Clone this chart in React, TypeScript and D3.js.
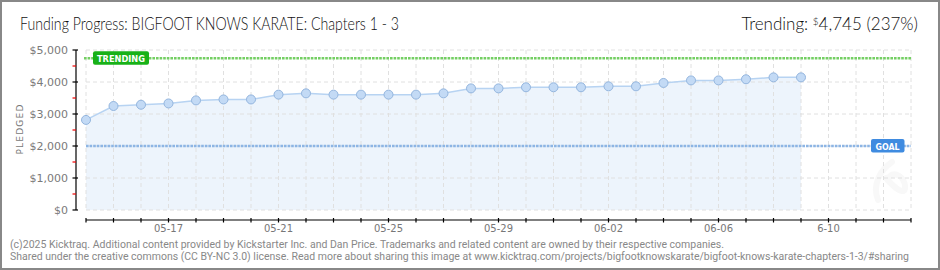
import React from "react";
import * as d3 from "d3";

const dates = [
  "2025-05-14","2025-05-15","2025-05-16","2025-05-17","2025-05-18","2025-05-19","2025-05-20",
  "2025-05-21","2025-05-22","2025-05-23","2025-05-24","2025-05-25","2025-05-26","2025-05-27",
  "2025-05-28","2025-05-29","2025-05-30","2025-05-31","2025-06-01","2025-06-02","2025-06-03",
  "2025-06-04","2025-06-05","2025-06-06","2025-06-07","2025-06-08","2025-06-09",
];
const pledged = [
  2815, 3250, 3290, 3330, 3425, 3455, 3455,
  3605, 3645, 3605, 3605, 3605, 3605, 3645,
  3800, 3800, 3835, 3835, 3835, 3865, 3865,
  3970, 4050, 4050, 4085, 4145, 4145,
];
const xTickDates = ["2025-05-17","2025-05-21","2025-05-25","2025-05-29","2025-06-02","2025-06-06","2025-06-10"];
const xTickLabels = ["05-17","05-21","05-25","05-29","06-02","06-06","6-10"];
const yTicks = [0, 1000, 2000, 3000, 4000, 5000];
const yMinorTicks = [500, 1500, 2500, 3500, 4500];
const domainStart = "2025-05-14";
const domainEnd = "2025-06-13";
const goal = 2000;
const trending = 4745;
const title = "Funding Progress: BIGFOOT KNOWS KARATE: Chapters 1 - 3";
const footer1 = "(c)2025 Kicktraq. Additional content provided by Kickstarter Inc. and Dan Price. Trademarks and related content are owned by their respective companies.";
const footer2 = "Shared under the creative commons (CC BY-NC 3.0) license. Read more about sharing this image at www.kicktraq.com/projects/bigfootknowskarate/bigfoot-knows-karate-chapters-1-3/#sharing";

const parse = d3.utcParse("%Y-%m-%d");

export default function App() {
  const W = 940, H = 270;
  const x = d3.scaleUtc().domain([parse(domainStart)!, parse(domainEnd)!]).range([86, 911]);
  const y = d3.scaleLinear().domain([0, 5000]).range([210, 50]);
  const data = dates.map((d, i) => ({ d: parse(d)!, v: pledged[i] }));
  const days = d3.utcDay.range(parse(domainStart)!, d3.utcDay.offset(parse(domainEnd)!, 1));
  const line = d3.line<any>().x(p => x(p.d)).y(p => y(p.v));
  const area = d3.area<any>().x(p => x(p.d)).y0(y(0)).y1(p => y(p.v));
  const fmt = d3.format("$,.0f");
  const font = "'DejaVu Sans', sans-serif";
  const footFont = "Roboto, 'Liberation Sans', sans-serif";
  const titleFont = "Lato, 'DejaVu Sans Condensed', sans-serif";
  const x0 = x.range()[0], x1 = x.range()[1];

  return (
    <svg width={W} height={H} style={{ position: "absolute", left: 0, top: 0, background: "#fff" }}>
      <rect x={0} y={0} width={W} height={H} fill="#fff" />
      {/* watermark */}
      <path d="M 878 200 C 872 185, 880 170, 892 162 M 886 178 C 896 190, 906 196, 905 186 C 904 176, 895 172, 890 176"
        fill="none" stroke="#f8f8f8" strokeWidth={6} strokeLinecap="round" />
      {/* area */}
      <path d={area(data)!} fill="#edf4fc" />
      {/* grid */}
      {days.map((d, i) => (
        <line key={"vg" + i} x1={x(d)} x2={x(d)} y1={y(5000)} y2={y(0)} stroke="#e0e0e0" strokeDasharray="4,3" />
      ))}
      {yTicks.map(t => (
        <line key={"hg" + t} x1={x0} x2={x1} y1={y(t)} y2={y(t)} stroke="#e0e0e0" strokeDasharray="4,3" />
      ))}
      {/* goal line */}
      <line x1={x0} x2={x1} y1={y(goal)} y2={y(goal)} stroke="#8db5e4" strokeWidth={2.5} strokeDasharray="2.6,1" />
      {/* trending line */}
      <line x1={x0 - 2} x2={x1} y1={y(trending)} y2={y(trending)} stroke="#74cf63" strokeWidth={2.5} strokeDasharray="2.6,1" />
      {/* data line and points */}
      <path d={line(data)!} fill="none" stroke="#b7d3f2" strokeWidth={1.5} />
      {data.map((p, i) => (
        <circle key={"pt" + i} cx={x(p.d)} cy={y(p.v)} r={4.5} fill="#c3daf5" stroke="#93b5de" strokeWidth={1} />
      ))}
      {/* trending label */}
      <rect x={93} y={y(trending) - 7} width={56} height={13.5} rx={2} fill="#18b118" />
      <text x={121} y={y(trending) + 3.5} textAnchor="middle" fill="#fff" fontFamily={font} fontSize={9} fontWeight="bold" textLength={48} lengthAdjust="spacingAndGlyphs">TRENDING</text>
      {/* goal label */}
      <rect x={871} y={y(goal) - 7} width={33.5} height={13.5} rx={2} fill="#3f8be0" />
      <text x={887.5} y={y(goal) + 3.5} textAnchor="middle" fill="#fff" fontFamily={font} fontSize={9} fontWeight="bold" textLength={24} lengthAdjust="spacingAndGlyphs">GOAL</text>
      {/* y axis */}
      <line x1={76} x2={76} y1={y(5000)} y2={y(0)} stroke="#000" strokeWidth={1.2} />
      {yTicks.map(t => (
        <g key={"yt" + t}>
          <line x1={72.5} x2={78} y1={y(t)} y2={y(t)} stroke="#000" strokeWidth={1.2} />
          <text x={68} y={y(t) + 4} textAnchor="end" fill="#7a7a7a" fontFamily={font} fontSize={11}>{fmt(t)}</text>
        </g>
      ))}
      {yMinorTicks.map(t => (
        <line key={"ym" + t} x1={72.5} x2={76} y1={y(t)} y2={y(t)} stroke="#e00" strokeWidth={1.2} />
      ))}
      <text transform={`translate(23,129) rotate(-90)`} textAnchor="middle" fill="#777" fontFamily={font} fontSize={9} letterSpacing={1.2}>PLEDGED</text>
      {/* x axis */}
      <line x1={x0} x2={x1} y1={220} y2={220} stroke="#000" strokeWidth={1.2} />
      {days.map((d, i) => (
        <line key={"xt" + i} x1={x(d)} x2={x(d)} y1={218} y2={222.5} stroke="#000" strokeWidth={1.2} />
      ))}
      {xTickDates.map((d, i) => (
        <text key={"xl" + i} x={x(parse(d)!)} y={231.5} textAnchor="middle" fill="#777" fontFamily={font} fontSize={10}>{xTickLabels[i]}</text>
      ))}
      {/* title */}
      <text x={20} y={30} fill="#111" fontFamily={titleFont} fontWeight={300} fontSize={17}
        textLength={379} lengthAdjust="spacingAndGlyphs">{title}</text>
      <text x={918} y={30} textAnchor="end" fill="#111" fontFamily={titleFont} fontWeight={300} fontSize={17}>
        Trending: <tspan fontSize={10} dy={-5}>$</tspan><tspan dy={5}>4,745 (237%)</tspan>
      </text>
      {/* footer */}
      <text x={10} y={247.5} fill="#888" fontFamily={footFont} fontSize={10.5} textLength={714} lengthAdjust="spacingAndGlyphs">{footer1}</text>
      <text x={10} y={259.5} fill="#888" fontFamily={footFont} fontSize={10} textLength={899} lengthAdjust="spacingAndGlyphs">{footer2}</text>
      {/* border */}
      <rect x={1} y={1} width={W - 2} height={H - 2} fill="none" stroke="#888" strokeWidth={2} />
    </svg>
  );
}
